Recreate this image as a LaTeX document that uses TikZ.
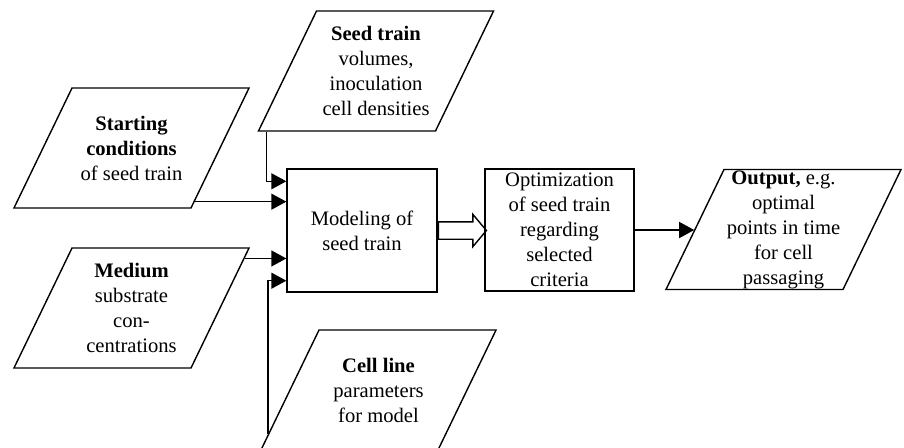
\documentclass[tikz,border=0pt]{standalone}
\usepackage{fontspec}
\setmainfont{Liberation Serif}
\usepackage{tikz}
\usetikzlibrary{calc}
\usetikzlibrary{arrows.meta}
\usetikzlibrary{shapes.geometric}
\usetikzlibrary{shapes.arrows}
\newcommand{\widthpara}{117.5pt}
\newcommand{\heightpara}{60pt}
\newcommand{\widthbox}{75pt}
\tikzset{
    common/.style={draw, inner sep=0pt, align=center},
    para/.style={common, inner sep=1pt, trapezium, trapezium left angle=64, trapezium right angle=116,
        trapezium stretches=true, minimum width=\widthpara, minimum height=\heightpara},
    box/.style={common, rectangle, minimum width=\widthbox, minimum height=61.5pt},
    passarrow/.style={draw, single arrow, inner sep=4pt, single arrow head extend=3.75pt,
        single arrow tip angle=100, minimum height=24pt},
    every label/.style={align=center}
}

\begin{document}
\begin{tikzpicture}[x=0.5pt, y=-0.5pt, line width=0.7pt,
        font=\fontsize{10.3}{12.5}\selectfont, >={Triangle[length=7.5pt,width=8pt]}]
        \useasboundingbox (0,0) rectangle (904,447);

        % inputs
        \node[para, label=center:{\textbf{Seed train}\\volumes,\\inoculation\\cell densities}] (seed) at (376,71) {};
        \node[para, label=center:{\textbf{Starting}\\\textbf{conditions}\\of seed train}] (start) at (131.5,148) {};
        \node[para, label=center:{\textbf{Medium}\\substrate\\con-\\centrations}] (medium) at (131.5,308) {};
        \node[para, label=center:{\textbf{Cell line}\\parameters\\for model}] (cellline) at (378.5,390) {};

        % model and optimization
        \node[box] (model) at (362,230.5) {Modeling of\\seed train};
        \node[box, minimum width=74.5pt, minimum height=61pt] (optim) at (559.5,230) {Optimization\\of seed train\\regarding\\selected\\criteria};
        \node[passarrow, anchor=tail] (pass) at (model.east) {};

        \node[para, label=center:{\textbf{Output,} e.g.\\optimal\\points in time\\for cell\\passaging}] (output) at (783.5,229.5) {};

        \draw[->] ([xshift=4.5pt]seed.bottom left corner) |- ([yshift=-6.5pt]model.north west);
        \draw[->] ($(start.bottom right corner)!0.058!(start.top right corner)$) coordinate (s) -- (s -| model.west);
        \draw[->] ($(medium.bottom right corner)!0.908!(medium.top right corner)$) coordinate (m) -- (m -| model.west);
        \draw[->] ($(cellline.bottom left corner)!0.14!(cellline.top left corner)$) |- ([yshift=6pt]model.south west);
        \draw[->] (optim.east) -- (optim.east -| output.west);

    \end{tikzpicture}
\end{document}
